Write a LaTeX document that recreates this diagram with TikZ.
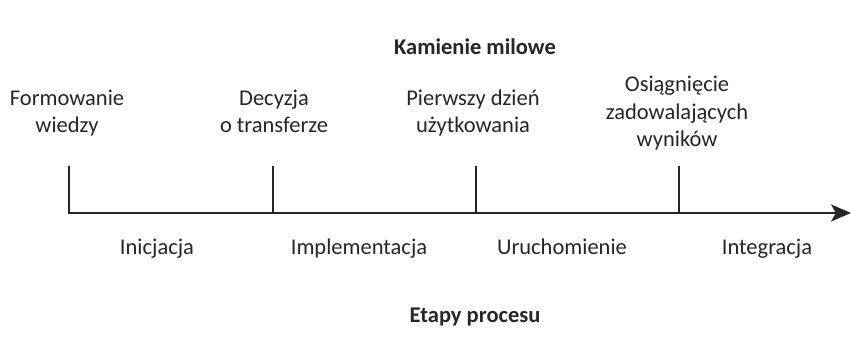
\documentclass[tikz,border=0pt]{standalone}
\usepackage{fontspec}
\setmainfont{Carlito}
\usetikzlibrary{arrows.meta,calc}
\begin{document}
\begin{tikzpicture}[x=1pt,y=1pt,
  axis/.style={line width=2.2pt,black!85},
  lbl/.style={font=\fontsize{22.5}{27.5}\selectfont,align=center,inner sep=0pt,text=black!85,anchor=base},
  ttl/.style={font=\fontsize{22.5}{27.5}\selectfont\bfseries,inner sep=0pt,text=black!85}]
\useasboundingbox (0,0) rectangle (851,350);
% time axis with the four milestones
\coordinate (m1) at (69,137);
\coordinate (m2) at (273,137);
\coordinate (m3) at (476,137);
\coordinate (m4) at (679,137);
\coordinate (end) at (851,137);
\foreach \i in {1,2,3,4} \coordinate (t\i) at ($(m\i)+(0,46)$);
\draw[axis,-{Stealth[length=20pt,width=17pt,inset=5pt]}] (m1) -- (end);
\foreach \i in {1,2,3,4} \draw[axis,line cap=rect] (m\i) -- (t\i);
% titles
\node[ttl] (kam) at (475,303) {Kamienie milowe};
\node[ttl] (eta) at (475,33) {Etapy procesu};
% milestones (base = last line)
\node[lbl] (fw) at (67,217) {Formowanie\\wiedzy};
\node[lbl] (dt) at (274,217) {Decyzja\\o transferze};
\node[lbl] (pd) at (473,217) {Pierwszy dzień\\użytkowania};
\node[lbl] (oz) at (677,203) {Osiągnięcie\\zadowalających\\wyników};
% stages
\node[lbl] (ini) at (157,95) {Inicjacja};
\node[lbl] (imp) at (359,95) {Implementacja};
\node[lbl] (uru) at (562,95) {Uruchomienie};
\node[lbl] (int) at (767,95) {Integracja};
\end{tikzpicture}
\end{document}
